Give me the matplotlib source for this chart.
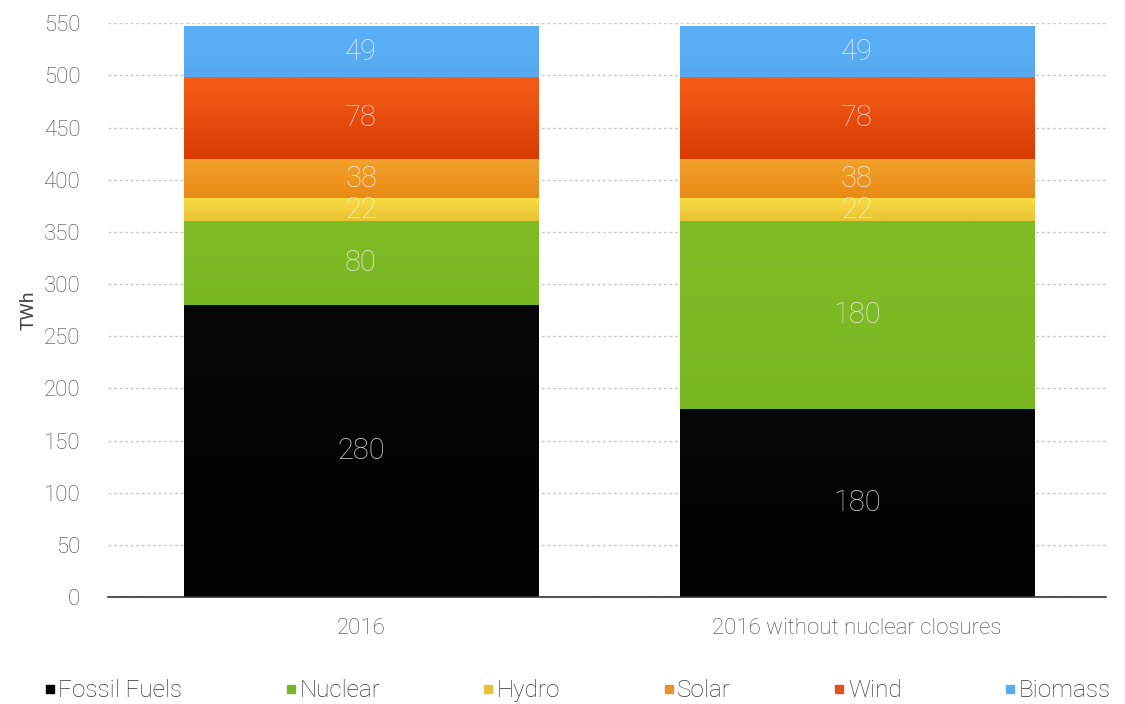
import numpy as np
import matplotlib
matplotlib.use('Agg')
import matplotlib.pyplot as plt
from matplotlib.colors import LinearSegmentedColormap
from matplotlib.lines import Line2D

plt.rcParams['font.family'] = ['Roboto', 'DejaVu Sans']
plt.rcParams['font.weight'] = 'light'

categories = ['2016', '2016 without nuclear closures']
sources = ['Fossil Fuels', 'Nuclear', 'Hydro', 'Solar', 'Wind', 'Biomass']
fossil = [280, 180]
nuclear = [80, 180]
hydro = [22, 22]
solar = [38, 38]
wind = [78, 78]
biomass = [49, 49]
series = [fossil, nuclear, hydro, solar, wind, biomass]

# top colour, bottom colour for each segment (slight gradients like the original)
grads = [('#060606', '#020202'),
         ('#80bc26', '#79b722'),
         ('#f7dc45', '#e9c233'),
         ('#f2a22c', '#e98a16'),
         ('#f65d17', '#d83c04'),
         ('#5aaff6', '#55aaf2')]
legend_cols = ['#000000', '#79b52c', '#e8c23c', '#e69030', '#e0531c', '#5aaef0']

fig = plt.figure(figsize=(11.25, 7.04), dpi=100)
ax = fig.add_axes([0.096, 0.152, 0.887, 0.815])

x = np.arange(len(categories))
bottom = np.zeros(len(categories))
for vals, (ctop, cbot) in zip(series, grads):
    bars = ax.bar(x, vals, 0.714, bottom=bottom, color=cbot, zorder=2, linewidth=0)
    cmap = LinearSegmentedColormap.from_list('g', [cbot, ctop])
    grad = np.linspace(0, 1, 64).reshape(-1, 1)
    for b, v in zip(bars, vals):
        x0, y0 = b.get_x(), b.get_y()
        im = ax.imshow(grad, cmap=cmap, origin='lower', aspect='auto',
                       extent=[x0, x0 + b.get_width(), y0, y0 + b.get_height()], zorder=2.5)
        im.set_clip_path(b)
        ax.text(b.get_x() + b.get_width() / 2, y0 + v / 2, str(v), ha='center', va='center',
                fontsize=21, color='#f3f3f3', alpha=0.88, zorder=4)
    bottom += np.array(vals)

ax.set_xlim(-0.51, 1.502)
ax.set_ylim(0, 550)
ax.set_yticks(np.arange(0, 551, 50))
ax.set_xticks(x)
ax.set_xticklabels(categories)
ax.yaxis.grid(True, linestyle=(0, (2, 2)), color='#c8c8c8', linewidth=1.0, zorder=0)
ax.set_axisbelow(True)
for s in ['top', 'right', 'left']:
    ax.spines[s].set_visible(False)
ax.spines['bottom'].set_color('#333333')
ax.spines['bottom'].set_linewidth(1.2)
ax.tick_params(axis='both', length=0, labelsize=16, colors='#444444')
ax.tick_params(axis='y', pad=20)
ax.tick_params(axis='x', pad=15)
ax.set_ylabel('TWh', fontsize=14, color='#444444', labelpad=4)

handles = [Line2D([], [], marker='s', linestyle='none', markersize=6, color=c) for c in legend_cols]
fig.legend(handles, sources, loc='lower left', bbox_to_anchor=(0.026, -0.018, 0.974, 0.05),
           mode='expand', ncol=6, frameon=False, borderaxespad=0.2,
           fontsize=17.5, handlelength=0.5, handletextpad=0.1,
           labelcolor='#333333')

plt.savefig('out.png', dpi=100)
